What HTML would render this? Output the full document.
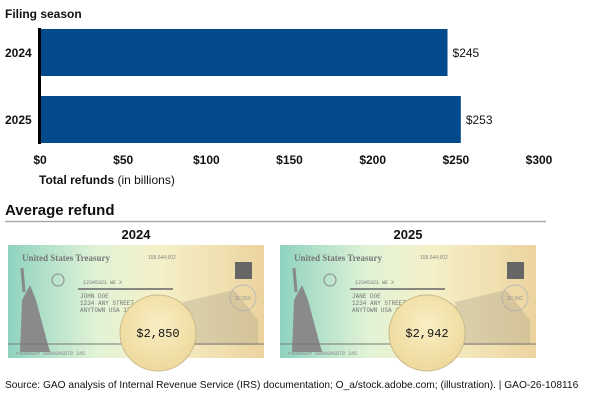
<!DOCTYPE html>
<html><head><meta charset="utf-8"><style>
body{margin:0;background:#fff;width:600px;height:402px;overflow:hidden;font-family:"Liberation Sans",Arial,sans-serif}
</style></head><body>
<svg width="600" height="402" viewBox="0 0 600 402" xmlns="http://www.w3.org/2000/svg" font-family="Liberation Sans, Arial, sans-serif">
<defs>
<linearGradient id="chk" x1="0" x2="1" y1="0" y2="0">
<stop offset="0" stop-color="#8fd3c0"/><stop offset="0.35" stop-color="#e2f3d6"/><stop offset="0.6" stop-color="#f5f0c8"/><stop offset="1" stop-color="#ecd39e"/>
</linearGradient>
<radialGradient id="mag" cx="0.5" cy="0.4" r="0.6"><stop offset="0" stop-color="#f9eec4"/><stop offset="1" stop-color="#eed99c"/></radialGradient>
</defs>
<text x="5" y="18" font-size="12" font-weight="bold" fill="#111">Filing season</text>
<g id="chart"></g>
<text x="39" y="184" font-size="12" fill="#111"><tspan font-weight="bold">Total refunds</tspan> (in billions)</text>
<text x="5" y="215" font-size="15" font-weight="bold" fill="#111">Average refund</text>
<line x1="5" y1="221.5" x2="546" y2="221.5" stroke="#aaa" stroke-width="1.5"/>
<g id="checks"></g>
<text x="5" y="388" font-size="10.2" fill="#111">Source: GAO analysis of Internal Revenue Service (IRS) documentation; O_a/stock.adobe.com; (illustration).  |  GAO-26-108116</text>
</svg>
<script>
const categories=["2024","2025"];
const refunds=[245,253];
const tickValues=[0,50,100,150,200,250,300];
const tickLabels=["$0","$50","$100","$150","$200","$250","$300"];
const avgYears=["2024","2025"];
const avgRefunds=["$2,850","$2,942"];
const names=["JOHN DOE","JANE DOE"];
const NS="http://www.w3.org/2000/svg";
function mk(t,a,p){const e=document.createElementNS(NS,t);for(const k in a)e.setAttribute(k,a[k]);p.appendChild(e);return e;}
const x=v=>40+v*(499/300);
const y=i=>29+i*67;
const g=document.getElementById('chart');
categories.forEach((c,i)=>{
 const r=mk('rect',{x:x(0),y:y(i),width:x(refunds[i])-x(0),height:47,fill:'#034a8c'},g);
 
 
 const l=mk('text',{x:5,y:y(i)+28,'font-size':12,'font-weight':'bold',fill:'#111'},g);l.textContent=c;
 
 
 const v=mk('text',{x:x(refunds[i])+5,y:y(i)+28,'font-size':12,fill:'#111'},g);v.textContent='$'+refunds[i];
 
 
});
const ax=mk('line',{x1:39.5,y1:28,x2:39.5,y2:144,stroke:'#000','stroke-width':3},g);


tickValues.forEach((t,i)=>{
 const tx=mk('text',{x:x(t),y:164,'font-size':12,'font-weight':'bold','text-anchor':'middle',fill:'#111'},g);tx.textContent=tickLabels[i];
 
 
});
const cg=document.getElementById('checks');
avgYears.forEach((yr,i)=>{
 const ox=8+i*272;
 const grp=mk('g',{},cg);
 
 
 const yl=mk('text',{x:ox+128,y:239,'font-size':13,'font-weight':'bold','text-anchor':'middle',fill:'#111'},grp);yl.textContent=yr;
 
 
 mk('rect',{x:ox,y:245,width:256,height:113,fill:'url(#chk)'},grp);
 mk('text',{x:ox+14,y:261,'font-size':9,'font-family':'Liberation Serif, serif','font-weight':'bold',fill:'#777'},grp).textContent='United States Treasury';
 mk('text',{x:ox+140,y:259,'font-size':5,fill:'#888'},grp).textContent='158,644,602';
 mk('rect',{x:ox+227,y:262,width:17,height:17,fill:'#666'},grp);
 mk('circle',{cx:ox+50,cy:280,r:6,fill:'none',stroke:'#888'},grp);
 mk('path',{d:`M${ox+12} 352 L${ox+14} 300 L${ox+22} 285 L${ox+28} 300 L${ox+36} 330 L${ox+42} 352 Z`,fill:'#8a8a8a'},grp);
 mk('line',{x1:ox+14,y1:268,x2:ox+16,y2:292,stroke:'#888','stroke-width':3},grp);
 mk('line',{x1:ox+70,y1:289,x2:ox+165,y2:289,stroke:'#666','stroke-width':1.5},grp);
 mk('text',{x:ox+75,y:284,'font-size':5,fill:'#777','font-family':'Liberation Mono, monospace'},grp).textContent='12345321   WE  X';
 mk('text',{x:ox+72,y:298,'font-size':6,fill:'#777','font-family':'Liberation Mono, monospace'},grp).textContent=names[i];
 mk('text',{x:ox+72,y:305,'font-size':6,fill:'#777','font-family':'Liberation Mono, monospace'},grp).textContent='1234 ANY STREET';
 mk('text',{x:ox+72,y:312,'font-size':6,fill:'#777','font-family':'Liberation Mono, monospace'},grp).textContent='ANYTOWN USA 12345';
 mk('circle',{cx:ox+235,cy:298,r:13,fill:'none',stroke:'#bbb'},grp);
 mk('text',{x:ox+235,y:300,'font-size':5,'text-anchor':'middle',fill:'#999'},grp).textContent=avgRefunds[i];
 mk('path',{d:`M${ox+175} 302 L${ox+226} 290 L${ox+250} 320 L${ox+250} 345 L${ox+180} 345 Z`,fill:'#a8a08a',opacity:0.35},grp);
 mk('line',{x1:ox,y1:344,x2:ox+256,y2:344,stroke:'#777','stroke-width':1},grp);
 mk('text',{x:ox+8,y:355,'font-size':5,fill:'#888','font-family':'Liberation Mono, monospace'},grp).textContent='#400000#     0000045670   345';
 const cx=ox+150+i*-3, cy=333;
 mk('circle',{cx:cx,cy:cy,r:38,fill:'url(#mag)',stroke:'#c9b98a','stroke-width':1},grp);
 const v=mk('text',{x:cx,y:cy+4,'font-size':12,'text-anchor':'middle',fill:'#111','font-family':'Liberation Mono, monospace'},grp);
 v.textContent=avgRefunds[i];
 
 
});
</script>
</body></html>
